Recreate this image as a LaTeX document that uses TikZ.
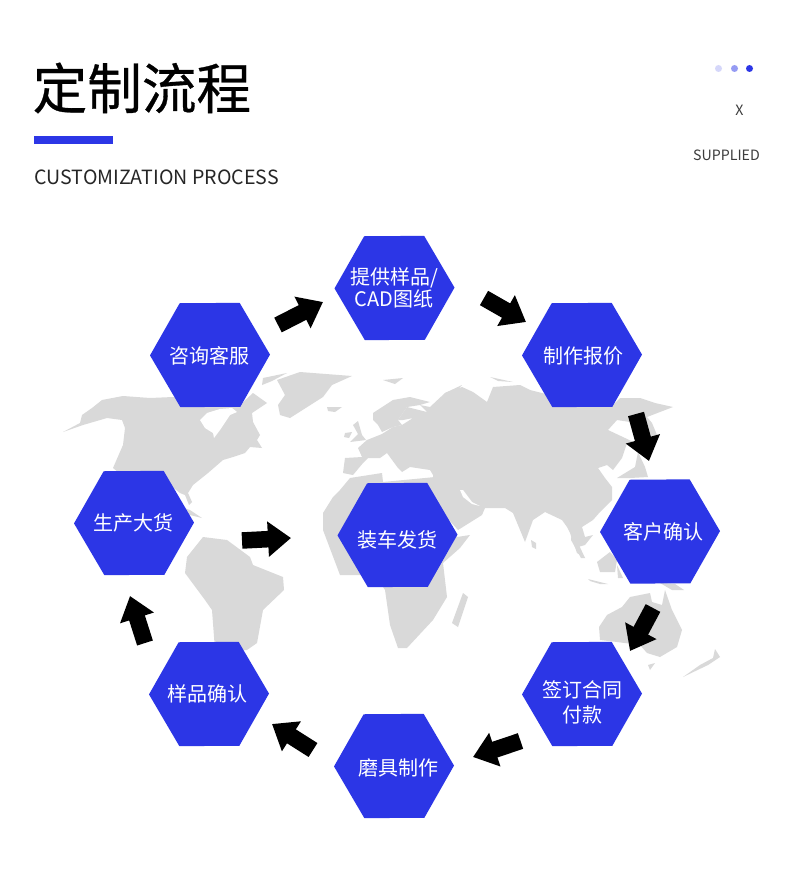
\documentclass[tikz,border=0pt]{standalone}
\usepackage{fontspec}
\setmainfont{Noto Sans CJK SC}
\usetikzlibrary{shapes.geometric,arrows.meta,calc}
\definecolor{brandblue}{RGB}{44,54,230}
\definecolor{mapgrey}{RGB}{217,217,217}
\definecolor{dotlight}{RGB}{213,215,250}
\definecolor{dotmid}{RGB}{149,155,243}
\definecolor{capgrey}{RGB}{60,60,60}
\newfontfamily\titlefont[FakeBold=0.6]{Noto Sans CJK SC}
\tikzset{
  hexa/.style={regular polygon,regular polygon sides=6,regular polygon rotate=0.4,fill=brandblue,draw=none,
    minimum size=120pt,inner sep=0pt},
  hexlabel/.style={text=white,font=\fontsize{20}{22.5}\selectfont,align=center,inner sep=0pt,yshift=-1pt},
  blockarrow/.style={line width=16.5pt,black,-{Triangle[length=23pt,width=34pt]}},
  land/.style={fill=mapgrey,draw=none},
  sea/.style={fill=white,draw=none},
  dot/.style={circle,minimum size=7pt,inner sep=0pt,draw=none},
  caption/.style={text=capgrey,font=\fontsize{14.2}{16}\selectfont,inner sep=0pt}
}
\begin{document}
\begin{tikzpicture}[x=1pt,y=-1pt]
\useasboundingbox (0,0) rectangle (790,877);
\fill[white] (0,0) rectangle (790,877);
% heading
\node[anchor=west,inner sep=0pt,font=\titlefont\fontsize{54.6}{60}\selectfont] (title) at (32.5,88) {定制流程};
\fill[brandblue] (34,136) rectangle (113,144);
\node[anchor=west,inner sep=0pt,font=\fontsize{19.6}{24}\selectfont,text=black!85] (subtitle) at (34.2,177) {CUSTOMIZATION PROCESS};
\node[dot,fill=dotlight] (d1) at (718.5,68.5) {};
\node[dot,fill=dotmid] (d2) at (734.5,68.5) {};
\node[dot,fill=brandblue] (d3) at (749.5,68.5) {};
\node[caption] (capx) at (739.5,110) {X};
\node[caption,anchor=east] (capsup) at (760,155) {SUPPLIED};
% North America
\fill[land] (63,432)--(80,423)--(82,415)--(92,408)--(102,400)--(123,396)--(150,398)--(173,397)--(200,400)--(240,405)--(253,393)--(267,403)--(252,413)--(253,422)--(260,435)--(257,440)--(262,448)--(250,447)--(245,453)--(233,457)--(223,460)--(208,473)--(193,485)--(188,493)--(192,502)--(189,505)--(185,495)--(180,493)--(170,485)--(140,490)--(113,468)--(123,445)--(125,428)--(122,420)--(107,418)--(83,425)--cycle;
\fill[sea] (200,420)--(207,413)--(220,409)--(232,408)--(237,412)--(230,415)--(220,430)--(214,438)--(213,433)--(205,428)--cycle;
\fill[land] (263,378)--(287,373)--(272,381)--(262,385)--cycle;
\fill[land] (175,505)--(190,510)--(202,518)--(190,515)--cycle;
% Greenland, Iceland
\fill[land] (277,380)--(300,372)--(352,376)--(332,385)--(323,397)--(290,418)--(280,415)--(278,405)--(285,395)--cycle;
\fill[land] (327,407)--(342,407)--(335,412)--(328,411)--cycle;
% South America
\fill[land] (185,573)--(187,557)--(203,537)--(227,540)--(250,557)--(253,565)--(283,577)--(284,590)--(263,610)--(257,643)--(247,650)--(215,650)--(212,610)--(205,600)--cycle;
% Africa
\fill[land] (323,513)--(333,497)--(340,490)--(350,478)--(382,473)--(383,482)--(425,478)--(435,477)--(437,500)--(457,537)--(470,535)--(460,548)--(443,563)--(447,597)--(433,620)--(407,648)--(398,648)--(390,625)--(385,590)--(375,575)--(340,575)--(323,530)--cycle;
\fill[land] (463,593)--(468,597)--(458,627)--(452,623)--cycle;
% Eurasia
\fill[land] (343,473)--(345,458)--(362,457)--(358,448)--(367,440)--(382,434)--(393,427)--(402,425)--(413,418)--(403,420)--(398,420)--(407,407)--(427,412)--(420,405)--(430,407)--(445,393)--(462,387)--(473,392)--(487,402)--(493,387)--(520,385)--(530,390)--(570,400)--(613,405)--(620,398)--(640,398)--(655,403)--(673,407)--(660,412)--(647,417)--(652,423)--(657,435)--(650,437)--(630,422)--(617,420)--(608,430)--(625,438)--(633,442)--(627,443)--(622,458)--(613,470)--(607,465)--(598,468)--(605,478)--(612,487)--(612,500)--(600,512)--(593,520)--(582,527)--(585,537)--(593,535)--(585,545)--(578,547)--(585,558)--(577,553)--(570,533)--(567,527)--(562,520)--(545,512)--(533,520)--(525,542)--(513,513)--(505,508)--(485,508)--(482,515)--(458,530)--(440,510)--(433,483)--(433,475)--(430,470)--(410,467)--(402,472)--(398,468)--(387,453)--(380,458)--(368,458)--(363,463)--(353,475)--cycle;
\fill[sea] (460,490)--(463,490)--(472,502)--(480,506)--(472,504)--(463,497)--cycle;
\fill[land] (373,413)--(393,400)--(410,397)--(430,402)--(420,405)--(407,407)--(398,420)--(402,425)--(393,427)--(382,432)--(378,425)--(373,420)--cycle;
\fill[land] (353,425)--(358,421)--(362,435)--(366,440)--(350,442)--(358,434)--cycle;
\fill[land] (345,433)--(352,432)--(349,438)--(344,437)--cycle;
\fill[land] (383,380)--(403,378)--(395,384)--cycle;
\fill[land] (445,393)--(462,385)--(452,396)--cycle;
\fill[land] (490,377)--(513,382)--(498,381)--cycle;
% Japan, Sri Lanka, Indonesia
\fill[land] (638,452)--(645,467)--(648,477)--(630,478)--(617,478)--(635,467)--cycle;
\fill[land] (531,540)--(536,543)--(536,549)--(532,547)--cycle;
\fill[land] (597,562)--(610,552)--(617,560)--(615,572)--(600,572)--cycle;
\fill[land] (572,530)--(585,558)--(581,558)--(571,540)--cycle;
\fill[land] (588,579)--(608,584)--(600,584)--(590,581)--cycle;
\fill[land] (617,565)--(623,578)--(618,578)--cycle;
\fill[land] (660,583)--(675,584)--(684,590)--(672,590)--cycle;
% Australia, New Zealand
\fill[land] (599,627)--(607,615)--(622,607)--(630,597)--(650,593)--(652,602)--(662,605)--(665,590)--(672,610)--(682,630)--(677,647)--(660,657)--(647,653)--(640,645)--(617,642)--(600,640)--cycle;
\fill[land] (648,665)--(655,663)--(650,670)--cycle;
\fill[land] (715,649)--(720,657)--(708,665)--(683,677)--(700,665)--(713,658)--cycle;
% hexagons
\node[hexa] (consult) at (210,355) {};
\node[hexa] (sample)  at (394.5,288) {};
\node[hexa] (quote)   at (582,355) {};
\node[hexa] (confirm) at (660,531.5) {};
\node[hexa] (sign)    at (582,694) {};
\node[hexa] (mold)    at (394,766) {};
\node[hexa] (proof)   at (209,694) {};
\node[hexa] (mass)    at (134,523) {};
\node[hexa] (ship)    at (397.5,535) {};
% labels
\node[hexlabel] (consulttext) at (209.5,355) {咨询客服};
\node[hexlabel] (sampletext) at (394,287) {提供样品/\\CAD图纸};
\node[hexlabel] (quotetext) at (583,355) {制作报价};
\node[hexlabel] (confirmtext) at (663.5,531) {客户确认};
\node[hexlabel,font=\fontsize{20}{25}\selectfont] (signtext) at (582,701) {签订合同\\付款};
\node[hexlabel] (moldtext) at (398,767) {磨具制作};
\node[hexlabel] (prooftext) at (207,693) {样品确认};
\node[hexlabel] (masstext) at (133.5,522) {生产大货};
\node[hexlabel] (shiptext) at (397.5,539) {装车发货};
% arrows
\draw[blockarrow] ($(consult)+(68,-30)$) -- ($(sample)+(-71.5,14)$);
\draw[blockarrow] ($(sample)+(89.5,10)$) -- ($(quote)+(-56,-33)$);
\draw[blockarrow] ($(quote)+(54,59)$) -- ($(confirm)+(-11,-70.5)$);
\draw[blockarrow] ($(confirm)+(-7,76.5)$) -- ($(sign)+(48,-43)$);
\draw[blockarrow] ($(sign)+(-61.5,47)$) -- ($(mold)+(79,-9)$);
\draw[blockarrow] ($(mold)+(-81,-16)$) -- ($(proof)+(63,30)$);
\draw[blockarrow] ($(proof)+(-64,-51)$) -- ($(mass)+(-4,73)$);
\draw[blockarrow] ($(mass)+(108,17.5)$) -- ($(ship)+(-106.5,3)$);
\end{tikzpicture}
\end{document}
